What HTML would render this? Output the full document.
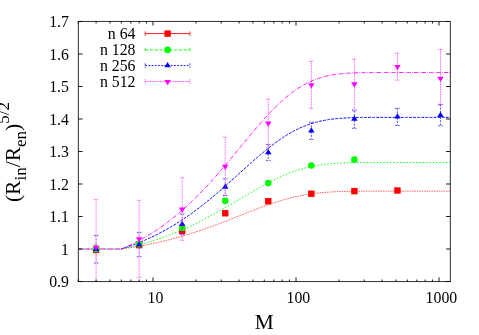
<!DOCTYPE html>
<html><head><meta charset="utf-8"><style>
html,body{margin:0;padding:0;background:#fff}
body{width:479px;height:335px;position:relative;overflow:hidden}
.t{font-family:"Liberation Serif",serif;font-size:15.8px;fill:#000}
.b{font-family:"Liberation Serif",serif;font-size:21.4px;fill:#000}
</style></head><body>
<svg width="479" height="335" viewBox="0 0 479 335" style="position:absolute;left:0;top:0;will-change:transform">
<rect width="479" height="335" fill="#fff"/>
<path d="M78.30 249.00 H121.28" fill="none" stroke="#ff0000" stroke-width="0.95" stroke-dasharray="0.7,1.0" stroke-opacity="0.5"/>
<path d="M121.28 249.00 L122.37 248.85 L123.47 248.69 L124.57 248.53 L125.66 248.37 L126.76 248.20 L127.86 248.04 L128.95 247.87 L130.05 247.70 L131.15 247.52 L132.24 247.35 L133.34 247.17 L134.44 246.99 L135.53 246.80 L136.63 246.62 L137.73 246.43 L138.82 246.23 L139.92 246.04 L141.02 245.84 L142.11 245.64 L143.21 245.44 L144.31 245.23 L145.40 245.02 L146.50 244.81 L147.60 244.60 L148.69 244.38 L149.79 244.16 L150.89 243.93 L151.98 243.71 L153.08 243.48 L154.18 243.24 L155.27 243.01 L156.37 242.77 L157.47 242.53 L158.57 242.28 L159.66 242.03 L160.76 241.78 L161.86 241.53 L162.95 241.27 L164.05 241.01 L165.15 240.74 L166.24 240.48 L167.34 240.20 L168.44 239.93 L169.53 239.65 L170.63 239.37 L171.73 239.09 L172.82 238.80 L173.92 238.51 L175.02 238.21 L176.11 237.92 L177.21 237.61 L178.31 237.31 L179.40 237.00 L180.50 236.69 L181.60 236.38 L182.69 236.06 L183.79 235.74 L184.89 235.41 L185.98 235.08 L187.08 234.75 L188.18 234.42 L189.27 234.08 L190.37 233.74 L191.47 233.39 L192.56 233.04 L193.66 232.69 L194.76 232.34 L195.85 231.98 L196.95 231.62 L198.05 231.25 L199.14 230.89 L200.24 230.52 L201.34 230.14 L202.43 229.77 L203.53 229.39 L204.63 229.01 L205.73 228.62 L206.82 228.23 L207.92 227.84 L209.02 227.45 L210.11 227.05 L211.21 226.65 L212.31 226.25 L213.40 225.85 L214.50 225.44 L215.60 225.03 L216.69 224.62 L217.79 224.21 L218.89 223.79 L219.98 223.38 L221.08 222.96 L222.18 222.53 L223.27 222.11 L224.37 221.69 L225.47 221.26 L226.56 220.83 L227.66 220.40 L228.76 219.97 L229.85 219.54 L230.95 219.11 L232.05 218.68 L233.14 218.24 L234.24 217.81 L235.34 217.37 L236.43 216.93 L237.53 216.50 L238.63 216.06 L239.72 215.63 L240.82 215.19 L241.92 214.75 L243.01 214.32 L244.11 213.88 L245.21 213.45 L246.30 213.01 L247.40 212.58 L248.50 212.15 L249.60 211.72 L250.69 211.29 L251.79 210.86 L252.89 210.43 L253.98 210.01 L255.08 209.59 L256.18 209.17 L257.27 208.75 L258.37 208.33 L259.47 207.92 L260.56 207.51 L261.66 207.10 L262.76 206.70 L263.85 206.30 L264.95 205.90 L266.05 205.51 L267.14 205.12 L268.24 204.74 L269.34 204.35 L270.43 203.98 L271.53 203.60 L272.63 203.23 L273.72 202.87 L274.82 202.51 L275.92 202.16 L277.01 201.81 L278.11 201.46 L279.21 201.13 L280.30 200.79 L281.40 200.46 L282.50 200.14 L283.59 199.83 L284.69 199.51 L285.79 199.21 L286.88 198.91 L287.98 198.62 L289.08 198.33 L290.17 198.05 L291.27 197.78 L292.37 197.51 L293.47 197.25 L294.56 196.99 L295.66 196.74 L296.76 196.50 L297.85 196.26 L298.95 196.04 L300.05 195.81 L301.14 195.60 L302.24 195.39 L303.34 195.18 L304.43 194.99 L305.53 194.79 L306.63 194.61 L307.72 194.43 L308.82 194.26 L309.92 194.09 L311.01 193.93 L312.11 193.78 L313.21 193.63 L314.30 193.49 L315.40 193.36 L316.50 193.23 L317.59 193.10 L318.69 192.98 L319.79 192.87 L320.88 192.76 L321.98 192.66 L323.08 192.56 L324.17 192.46 L325.27 192.37 L326.37 192.29 L327.46 192.21 L328.56 192.13 L329.66 192.06 L330.75 192.00 L331.85 191.93 L332.95 191.87 L334.04 191.82 L335.14 191.76 L336.24 191.71 L337.33 191.67 L338.43 191.63 L339.53 191.59 L340.63 191.55 L341.72 191.51 L342.82 191.48 L343.92 191.45 L345.01 191.42 L346.11 191.40 L347.21 191.37 L348.30 191.35 L349.40 191.33 L350.50 191.31 L351.59 191.30 L352.69 191.28 L353.79 191.27 L354.88 191.26 L355.98 191.24 L357.08 191.23 L358.17 191.22 L359.27 191.22 L360.37 191.21 L361.46 191.20 L362.56 191.20 L363.66 191.19 L364.75 191.18 L365.85 191.18 L366.95 191.18 L368.04 191.17 L369.14 191.17 L370.24 191.17 L371.33 191.16 L372.43 191.16 L373.53 191.16 L374.62 191.16 L375.72 191.16 L376.82 191.16 L377.91 191.16 L379.01 191.15 L380.11 191.15 L381.20 191.15 L382.30 191.15 L383.40 191.15 L384.50 191.15 L385.59 191.15 L386.69 191.15 L387.79 191.15 L388.88 191.15 L389.98 191.15 L391.08 191.15 L392.17 191.15 L393.27 191.15 L394.37 191.15 L395.46 191.15 L396.56 191.15 L397.66 191.15 L398.75 191.15 L399.85 191.15 L400.95 191.15 L402.04 191.15 L403.14 191.15 L404.24 191.15 L405.33 191.15 L406.43 191.15 L407.53 191.15 L408.62 191.15 L409.72 191.15 L410.82 191.15 L411.91 191.15 L413.01 191.15 L414.11 191.15 L415.20 191.15 L416.30 191.15 L417.40 191.15 L418.49 191.15 L419.59 191.15 L420.69 191.15 L421.78 191.15 L422.88 191.15 L423.98 191.15 L425.07 191.15 L426.17 191.15 L427.27 191.15 L428.37 191.15 L429.46 191.15 L430.56 191.15 L431.66 191.15 L432.75 191.15 L433.85 191.15 L434.95 191.15 L436.04 191.15 L437.14 191.15 L438.24 191.15 L439.33 191.15 L440.43 191.15 L441.53 191.15 L442.62 191.15 L443.72 191.15 L444.82 191.15 L445.91 191.15 L447.01 191.15 L448.11 191.15 L449.20 191.15 L450.30 191.15" fill="none" stroke="#ff0000" stroke-width="0.95" stroke-dasharray="0.7,1.0"/>
<path d="M78.30 249.00 H121.28" fill="none" stroke="#00ff00" stroke-width="1.0" stroke-dasharray="1.5,1.8" stroke-opacity="0.55"/>
<path d="M121.28 249.00 L122.37 248.77 L123.47 248.53 L124.57 248.30 L125.66 248.06 L126.76 247.81 L127.86 247.56 L128.95 247.31 L130.05 247.05 L131.15 246.79 L132.24 246.53 L133.34 246.26 L134.44 245.99 L135.53 245.71 L136.63 245.44 L137.73 245.15 L138.82 244.86 L139.92 244.57 L141.02 244.28 L142.11 243.98 L143.21 243.67 L144.31 243.37 L145.40 243.05 L146.50 242.74 L147.60 242.41 L148.69 242.09 L149.79 241.76 L150.89 241.42 L151.98 241.09 L153.08 240.74 L154.18 240.39 L155.27 240.04 L156.37 239.68 L157.47 239.32 L158.57 238.95 L159.66 238.58 L160.76 238.21 L161.86 237.82 L162.95 237.44 L164.05 237.05 L165.15 236.65 L166.24 236.25 L167.34 235.85 L168.44 235.44 L169.53 235.02 L170.63 234.60 L171.73 234.17 L172.82 233.74 L173.92 233.31 L175.02 232.87 L176.11 232.42 L177.21 231.97 L178.31 231.52 L179.40 231.06 L180.50 230.59 L181.60 230.12 L182.69 229.64 L183.79 229.16 L184.89 228.68 L185.98 228.19 L187.08 227.69 L188.18 227.19 L189.27 226.68 L190.37 226.17 L191.47 225.66 L192.56 225.14 L193.66 224.61 L194.76 224.08 L195.85 223.55 L196.95 223.01 L198.05 222.46 L199.14 221.91 L200.24 221.36 L201.34 220.80 L202.43 220.24 L203.53 219.67 L204.63 219.10 L205.73 218.52 L206.82 217.94 L207.92 217.36 L209.02 216.77 L210.11 216.18 L211.21 215.58 L212.31 214.98 L213.40 214.37 L214.50 213.77 L215.60 213.16 L216.69 212.54 L217.79 211.92 L218.89 211.30 L219.98 210.68 L221.08 210.05 L222.18 209.42 L223.27 208.79 L224.37 208.15 L225.47 207.52 L226.56 206.88 L227.66 206.23 L228.76 205.59 L229.85 204.95 L230.95 204.30 L232.05 203.65 L233.14 203.00 L234.24 202.35 L235.34 201.70 L236.43 201.05 L237.53 200.39 L238.63 199.74 L239.72 199.09 L240.82 198.43 L241.92 197.78 L243.01 197.13 L244.11 196.48 L245.21 195.83 L246.30 195.18 L247.40 194.53 L248.50 193.89 L249.60 193.24 L250.69 192.60 L251.79 191.96 L252.89 191.32 L253.98 190.69 L255.08 190.06 L256.18 189.43 L257.27 188.80 L258.37 188.18 L259.47 187.57 L260.56 186.95 L261.66 186.34 L262.76 185.74 L263.85 185.14 L264.95 184.55 L266.05 183.96 L267.14 183.38 L268.24 182.80 L269.34 182.23 L270.43 181.67 L271.53 181.11 L272.63 180.56 L273.72 180.01 L274.82 179.48 L275.92 178.95 L277.01 178.42 L278.11 177.91 L279.21 177.40 L280.30 176.91 L281.40 176.41 L282.50 175.93 L283.59 175.46 L284.69 174.99 L285.79 174.54 L286.88 174.09 L287.98 173.65 L289.08 173.23 L290.17 172.81 L291.27 172.40 L292.37 171.99 L293.47 171.60 L294.56 171.22 L295.66 170.85 L296.76 170.49 L297.85 170.13 L298.95 169.79 L300.05 169.46 L301.14 169.13 L302.24 168.82 L303.34 168.52 L304.43 168.22 L305.53 167.94 L306.63 167.66 L307.72 167.39 L308.82 167.14 L309.92 166.89 L311.01 166.65 L312.11 166.42 L313.21 166.20 L314.30 165.99 L315.40 165.78 L316.50 165.59 L317.59 165.40 L318.69 165.22 L319.79 165.05 L320.88 164.89 L321.98 164.74 L323.08 164.59 L324.17 164.45 L325.27 164.32 L326.37 164.19 L327.46 164.07 L328.56 163.96 L329.66 163.85 L330.75 163.75 L331.85 163.66 L332.95 163.57 L334.04 163.48 L335.14 163.40 L336.24 163.33 L337.33 163.26 L338.43 163.20 L339.53 163.14 L340.63 163.08 L341.72 163.03 L342.82 162.98 L343.92 162.94 L345.01 162.89 L346.11 162.86 L347.21 162.82 L348.30 162.79 L349.40 162.76 L350.50 162.73 L351.59 162.71 L352.69 162.68 L353.79 162.66 L354.88 162.64 L355.98 162.63 L357.08 162.61 L358.17 162.60 L359.27 162.58 L360.37 162.57 L361.46 162.56 L362.56 162.55 L363.66 162.54 L364.75 162.54 L365.85 162.53 L366.95 162.52 L368.04 162.52 L369.14 162.51 L370.24 162.51 L371.33 162.51 L372.43 162.50 L373.53 162.50 L374.62 162.50 L375.72 162.50 L376.82 162.50 L377.91 162.49 L379.01 162.49 L380.11 162.49 L381.20 162.49 L382.30 162.49 L383.40 162.49 L384.50 162.49 L385.59 162.49 L386.69 162.49 L387.79 162.49 L388.88 162.49 L389.98 162.49 L391.08 162.49 L392.17 162.49 L393.27 162.49 L394.37 162.49 L395.46 162.49 L396.56 162.49 L397.66 162.49 L398.75 162.49 L399.85 162.49 L400.95 162.49 L402.04 162.49 L403.14 162.49 L404.24 162.49 L405.33 162.49 L406.43 162.49 L407.53 162.49 L408.62 162.49 L409.72 162.49 L410.82 162.49 L411.91 162.49 L413.01 162.49 L414.11 162.49 L415.20 162.49 L416.30 162.49 L417.40 162.49 L418.49 162.49 L419.59 162.49 L420.69 162.49 L421.78 162.49 L422.88 162.49 L423.98 162.49 L425.07 162.49 L426.17 162.49 L427.27 162.49 L428.37 162.49 L429.46 162.49 L430.56 162.49 L431.66 162.49 L432.75 162.49 L433.85 162.49 L434.95 162.49 L436.04 162.49 L437.14 162.49 L438.24 162.49 L439.33 162.49 L440.43 162.49 L441.53 162.49 L442.62 162.49 L443.72 162.49 L444.82 162.49 L445.91 162.49 L447.01 162.49 L448.11 162.49 L449.20 162.49 L450.30 162.49" fill="none" stroke="#00ff00" stroke-width="1.0" stroke-dasharray="1.5,1.8"/>
<path d="M78.30 249.00 H121.28" fill="none" stroke="#0000ff" stroke-width="1.0" stroke-dasharray="2.8,1.3" stroke-opacity="0.3"/>
<path d="M121.28 249.00 L122.37 248.65 L123.47 248.29 L124.57 247.93 L125.66 247.56 L126.76 247.19 L127.86 246.81 L128.95 246.43 L130.05 246.04 L131.15 245.64 L132.24 245.24 L133.34 244.83 L134.44 244.42 L135.53 244.00 L136.63 243.58 L137.73 243.15 L138.82 242.71 L139.92 242.27 L141.02 241.82 L142.11 241.36 L143.21 240.90 L144.31 240.43 L145.40 239.95 L146.50 239.47 L147.60 238.98 L148.69 238.49 L149.79 237.98 L150.89 237.47 L151.98 236.96 L153.08 236.44 L154.18 235.91 L155.27 235.37 L156.37 234.82 L157.47 234.27 L158.57 233.72 L159.66 233.15 L160.76 232.58 L161.86 232.00 L162.95 231.41 L164.05 230.82 L165.15 230.21 L166.24 229.60 L167.34 228.99 L168.44 228.36 L169.53 227.73 L170.63 227.09 L171.73 226.44 L172.82 225.79 L173.92 225.13 L175.02 224.46 L176.11 223.78 L177.21 223.09 L178.31 222.40 L179.40 221.70 L180.50 220.99 L181.60 220.27 L182.69 219.55 L183.79 218.82 L184.89 218.08 L185.98 217.33 L187.08 216.58 L188.18 215.82 L189.27 215.05 L190.37 214.27 L191.47 213.49 L192.56 212.69 L193.66 211.89 L194.76 211.09 L195.85 210.27 L196.95 209.45 L198.05 208.62 L199.14 207.79 L200.24 206.95 L201.34 206.10 L202.43 205.24 L203.53 204.38 L204.63 203.51 L205.73 202.63 L206.82 201.75 L207.92 200.86 L209.02 199.96 L210.11 199.06 L211.21 198.15 L212.31 197.24 L213.40 196.32 L214.50 195.40 L215.60 194.47 L216.69 193.53 L217.79 192.59 L218.89 191.65 L219.98 190.70 L221.08 189.74 L222.18 188.78 L223.27 187.82 L224.37 186.86 L225.47 185.89 L226.56 184.91 L227.66 183.94 L228.76 182.96 L229.85 181.97 L230.95 180.99 L232.05 180.00 L233.14 179.02 L234.24 178.03 L235.34 177.03 L236.43 176.04 L237.53 175.05 L238.63 174.06 L239.72 173.06 L240.82 172.07 L241.92 171.08 L243.01 170.08 L244.11 169.09 L245.21 168.10 L246.30 167.12 L247.40 166.13 L248.50 165.15 L249.60 164.17 L250.69 163.19 L251.79 162.22 L252.89 161.25 L253.98 160.28 L255.08 159.32 L256.18 158.37 L257.27 157.42 L258.37 156.47 L259.47 155.53 L260.56 154.60 L261.66 153.68 L262.76 152.76 L263.85 151.85 L264.95 150.94 L266.05 150.05 L267.14 149.16 L268.24 148.29 L269.34 147.42 L270.43 146.56 L271.53 145.71 L272.63 144.87 L273.72 144.04 L274.82 143.23 L275.92 142.42 L277.01 141.63 L278.11 140.84 L279.21 140.07 L280.30 139.31 L281.40 138.57 L282.50 137.83 L283.59 137.11 L284.69 136.41 L285.79 135.71 L286.88 135.03 L287.98 134.37 L289.08 133.72 L290.17 133.08 L291.27 132.45 L292.37 131.84 L293.47 131.25 L294.56 130.67 L295.66 130.10 L296.76 129.55 L297.85 129.01 L298.95 128.49 L300.05 127.98 L301.14 127.49 L302.24 127.01 L303.34 126.55 L304.43 126.10 L305.53 125.67 L306.63 125.25 L307.72 124.84 L308.82 124.45 L309.92 124.07 L311.01 123.71 L312.11 123.36 L313.21 123.03 L314.30 122.70 L315.40 122.39 L316.50 122.10 L317.59 121.81 L318.69 121.54 L319.79 121.28 L320.88 121.04 L321.98 120.80 L323.08 120.58 L324.17 120.36 L325.27 120.16 L326.37 119.97 L327.46 119.79 L328.56 119.62 L329.66 119.45 L330.75 119.30 L331.85 119.16 L332.95 119.02 L334.04 118.89 L335.14 118.77 L336.24 118.66 L337.33 118.56 L338.43 118.46 L339.53 118.37 L340.63 118.28 L341.72 118.20 L342.82 118.13 L343.92 118.06 L345.01 118.00 L346.11 117.94 L347.21 117.89 L348.30 117.84 L349.40 117.79 L350.50 117.75 L351.59 117.71 L352.69 117.68 L353.79 117.65 L354.88 117.62 L355.98 117.59 L357.08 117.57 L358.17 117.54 L359.27 117.53 L360.37 117.51 L361.46 117.49 L362.56 117.48 L363.66 117.47 L364.75 117.45 L365.85 117.44 L366.95 117.44 L368.04 117.43 L369.14 117.42 L370.24 117.41 L371.33 117.41 L372.43 117.40 L373.53 117.40 L374.62 117.40 L375.72 117.39 L376.82 117.39 L377.91 117.39 L379.01 117.39 L380.11 117.38 L381.20 117.38 L382.30 117.38 L383.40 117.38 L384.50 117.38 L385.59 117.38 L386.69 117.38 L387.79 117.38 L388.88 117.38 L389.98 117.38 L391.08 117.38 L392.17 117.38 L393.27 117.38 L394.37 117.38 L395.46 117.38 L396.56 117.38 L397.66 117.38 L398.75 117.38 L399.85 117.38 L400.95 117.38 L402.04 117.38 L403.14 117.38 L404.24 117.38 L405.33 117.38 L406.43 117.38 L407.53 117.38 L408.62 117.38 L409.72 117.38 L410.82 117.38 L411.91 117.38 L413.01 117.38 L414.11 117.38 L415.20 117.38 L416.30 117.38 L417.40 117.38 L418.49 117.38 L419.59 117.38 L420.69 117.38 L421.78 117.38 L422.88 117.38 L423.98 117.38 L425.07 117.38 L426.17 117.38 L427.27 117.38 L428.37 117.38 L429.46 117.38 L430.56 117.38 L431.66 117.38 L432.75 117.38 L433.85 117.38 L434.95 117.38 L436.04 117.38 L437.14 117.38 L438.24 117.38 L439.33 117.38 L440.43 117.38 L441.53 117.38 L442.62 117.38 L443.72 117.38 L444.82 117.38 L445.91 117.38 L447.01 117.38 L448.11 117.38 L449.20 117.38 L450.30 117.38" fill="none" stroke="#0000ff" stroke-width="1.0" stroke-dasharray="2.8,1.3"/>
<path d="M78.30 249.00 H121.28" fill="none" stroke="#ff00ff" stroke-width="0.95" stroke-dasharray="4.2,1.3,0.7,1.3" stroke-opacity="0.75"/>
<path d="M121.28 249.00 L122.37 248.53 L123.47 248.06 L124.57 247.58 L125.66 247.09 L126.76 246.60 L127.86 246.09 L128.95 245.58 L130.05 245.07 L131.15 244.54 L132.24 244.01 L133.34 243.47 L134.44 242.92 L135.53 242.36 L136.63 241.80 L137.73 241.23 L138.82 240.65 L139.92 240.06 L141.02 239.46 L142.11 238.85 L143.21 238.24 L144.31 237.62 L145.40 236.98 L146.50 236.34 L147.60 235.69 L148.69 235.04 L149.79 234.37 L150.89 233.69 L151.98 233.01 L153.08 232.31 L154.18 231.61 L155.27 230.90 L156.37 230.17 L157.47 229.44 L158.57 228.70 L159.66 227.95 L160.76 227.19 L161.86 226.41 L162.95 225.63 L164.05 224.84 L165.15 224.04 L166.24 223.23 L167.34 222.41 L168.44 221.58 L169.53 220.74 L170.63 219.89 L171.73 219.03 L172.82 218.16 L173.92 217.28 L175.02 216.39 L176.11 215.49 L177.21 214.57 L178.31 213.65 L179.40 212.72 L180.50 211.78 L181.60 210.82 L182.69 209.86 L183.79 208.89 L184.89 207.90 L185.98 206.91 L187.08 205.90 L188.18 204.89 L189.27 203.87 L190.37 202.83 L191.47 201.79 L192.56 200.73 L193.66 199.67 L194.76 198.59 L195.85 197.51 L196.95 196.41 L198.05 195.31 L199.14 194.20 L200.24 193.07 L201.34 191.94 L202.43 190.80 L203.53 189.65 L204.63 188.49 L205.73 187.32 L206.82 186.14 L207.92 184.96 L209.02 183.76 L210.11 182.56 L211.21 181.35 L212.31 180.13 L213.40 178.91 L214.50 177.67 L215.60 176.43 L216.69 175.18 L217.79 173.93 L218.89 172.67 L219.98 171.40 L221.08 170.13 L222.18 168.85 L223.27 167.56 L224.37 166.27 L225.47 164.98 L226.56 163.68 L227.66 162.37 L228.76 161.06 L229.85 159.75 L230.95 158.43 L232.05 157.11 L233.14 155.79 L234.24 154.47 L235.34 153.14 L236.43 151.82 L237.53 150.49 L238.63 149.16 L239.72 147.83 L240.82 146.50 L241.92 145.17 L243.01 143.84 L244.11 142.51 L245.21 141.19 L246.30 139.86 L247.40 138.54 L248.50 137.22 L249.60 135.91 L250.69 134.60 L251.79 133.29 L252.89 131.99 L253.98 130.70 L255.08 129.41 L256.18 128.12 L257.27 126.85 L258.37 125.58 L259.47 124.32 L260.56 123.06 L261.66 121.82 L262.76 120.58 L263.85 119.36 L264.95 118.14 L266.05 116.94 L267.14 115.75 L268.24 114.57 L269.34 113.40 L270.43 112.24 L271.53 111.10 L272.63 109.97 L273.72 108.85 L274.82 107.75 L275.92 106.66 L277.01 105.59 L278.11 104.53 L279.21 103.49 L280.30 102.47 L281.40 101.46 L282.50 100.47 L283.59 99.49 L284.69 98.54 L285.79 97.60 L286.88 96.68 L287.98 95.77 L289.08 94.89 L290.17 94.03 L291.27 93.18 L292.37 92.35 L293.47 91.54 L294.56 90.76 L295.66 89.99 L296.76 89.24 L297.85 88.51 L298.95 87.80 L300.05 87.11 L301.14 86.44 L302.24 85.79 L303.34 85.16 L304.43 84.54 L305.53 83.95 L306.63 83.38 L307.72 82.83 L308.82 82.29 L309.92 81.78 L311.01 81.28 L312.11 80.80 L313.21 80.34 L314.30 79.90 L315.40 79.48 L316.50 79.07 L317.59 78.68 L318.69 78.31 L319.79 77.95 L320.88 77.61 L321.98 77.29 L323.08 76.98 L324.17 76.68 L325.27 76.41 L326.37 76.14 L327.46 75.89 L328.56 75.65 L329.66 75.43 L330.75 75.22 L331.85 75.02 L332.95 74.83 L334.04 74.65 L335.14 74.49 L336.24 74.33 L337.33 74.18 L338.43 74.05 L339.53 73.92 L340.63 73.80 L341.72 73.69 L342.82 73.59 L343.92 73.49 L345.01 73.40 L346.11 73.32 L347.21 73.25 L348.30 73.18 L349.40 73.12 L350.50 73.06 L351.59 73.00 L352.69 72.95 L353.79 72.91 L354.88 72.87 L355.98 72.83 L357.08 72.80 L358.17 72.77 L359.27 72.74 L360.37 72.72 L361.46 72.69 L362.56 72.67 L363.66 72.66 L364.75 72.64 L365.85 72.63 L366.95 72.61 L368.04 72.60 L369.14 72.59 L370.24 72.58 L371.33 72.57 L372.43 72.57 L373.53 72.56 L374.62 72.56 L375.72 72.55 L376.82 72.55 L377.91 72.54 L379.01 72.54 L380.11 72.54 L381.20 72.54 L382.30 72.53 L383.40 72.53 L384.50 72.53 L385.59 72.53 L386.69 72.53 L387.79 72.53 L388.88 72.53 L389.98 72.53 L391.08 72.53 L392.17 72.53 L393.27 72.53 L394.37 72.53 L395.46 72.53 L396.56 72.53 L397.66 72.53 L398.75 72.53 L399.85 72.53 L400.95 72.53 L402.04 72.53 L403.14 72.53 L404.24 72.53 L405.33 72.53 L406.43 72.53 L407.53 72.53 L408.62 72.53 L409.72 72.53 L410.82 72.53 L411.91 72.53 L413.01 72.53 L414.11 72.53 L415.20 72.53 L416.30 72.53 L417.40 72.53 L418.49 72.53 L419.59 72.53 L420.69 72.53 L421.78 72.53 L422.88 72.53 L423.98 72.53 L425.07 72.53 L426.17 72.53 L427.27 72.53 L428.37 72.53 L429.46 72.53 L430.56 72.53 L431.66 72.53 L432.75 72.53 L433.85 72.53 L434.95 72.53 L436.04 72.53 L437.14 72.53 L438.24 72.53 L439.33 72.53 L440.43 72.53 L441.53 72.53 L442.62 72.53 L443.72 72.53 L444.82 72.53 L445.91 72.53 L447.01 72.53 L448.11 72.53 L449.20 72.53 L450.30 72.53" fill="none" stroke="#ff00ff" stroke-width="0.95" stroke-dasharray="4.2,1.3,0.7,1.3"/>
<rect x="92.89" y="246.61" width="6.40" height="6.40" fill="#ff0000"/>
<rect x="135.94" y="241.90" width="6.40" height="6.40" fill="#ff0000"/>
<rect x="178.99" y="227.76" width="6.40" height="6.40" fill="#ff0000"/>
<rect x="222.04" y="210.05" width="6.40" height="6.40" fill="#ff0000"/>
<rect x="265.08" y="198.03" width="6.40" height="6.40" fill="#ff0000"/>
<rect x="308.13" y="190.55" width="6.40" height="6.40" fill="#ff0000"/>
<rect x="351.18" y="187.95" width="6.40" height="6.40" fill="#ff0000"/>
<rect x="394.23" y="187.30" width="6.40" height="6.40" fill="#ff0000"/>
<path d="M96.09 244.78 V253.23" fill="none" stroke="#00ff00" stroke-width="0.72" stroke-dasharray="3.2,1.6" stroke-opacity="0.5"/>
<path d="M93.79 244.78 H98.39 M93.79 253.23 H98.39" fill="none" stroke="#00ff00" stroke-width="0.8" stroke-opacity="0.85" stroke-dasharray="3.2,1.6"/>
<circle cx="96.09" cy="249.00" r="3.3" fill="#00ff00"/>
<circle cx="139.14" cy="244.13" r="3.3" fill="#00ff00"/>
<circle cx="182.19" cy="227.88" r="3.3" fill="#00ff00"/>
<circle cx="225.24" cy="200.90" r="3.3" fill="#00ff00"/>
<circle cx="268.28" cy="183.09" r="3.3" fill="#00ff00"/>
<circle cx="311.33" cy="165.48" r="3.3" fill="#00ff00"/>
<circle cx="354.38" cy="159.63" r="3.3" fill="#00ff00"/>
<path d="M96.09 235.48 V263.17" fill="none" stroke="#0000ff" stroke-width="0.72" stroke-dasharray="1.8,1.4" stroke-opacity="0.5"/>
<path d="M93.79 235.48 H98.39 M93.79 263.17 H98.39" fill="none" stroke="#0000ff" stroke-width="0.8" stroke-opacity="0.85" stroke-dasharray="1.8,1.4"/>
<path d="M139.14 232.36 V256.74" fill="none" stroke="#0000ff" stroke-width="0.72" stroke-dasharray="1.8,1.4" stroke-opacity="0.5"/>
<path d="M136.84 232.36 H141.44 M136.84 256.74 H141.44" fill="none" stroke="#0000ff" stroke-width="0.8" stroke-opacity="0.85" stroke-dasharray="1.8,1.4"/>
<path d="M182.19 214.06 V234.86" fill="none" stroke="#0000ff" stroke-width="0.72" stroke-dasharray="1.8,1.4" stroke-opacity="0.5"/>
<path d="M179.89 214.06 H184.49 M179.89 234.86 H184.49" fill="none" stroke="#0000ff" stroke-width="0.8" stroke-opacity="0.85" stroke-dasharray="1.8,1.4"/>
<path d="M225.24 178.80 V195.38" fill="none" stroke="#0000ff" stroke-width="0.72" stroke-dasharray="1.8,1.4" stroke-opacity="0.5"/>
<path d="M222.94 178.80 H227.54 M222.94 195.38 H227.54" fill="none" stroke="#0000ff" stroke-width="0.8" stroke-opacity="0.85" stroke-dasharray="1.8,1.4"/>
<path d="M268.28 144.35 V160.60" fill="none" stroke="#0000ff" stroke-width="0.72" stroke-dasharray="1.8,1.4"/>
<path d="M265.98 144.35 H270.58 M265.98 160.60 H270.58" fill="none" stroke="#0000ff" stroke-width="0.8" stroke-opacity="0.85" stroke-dasharray="1.8,1.4"/>
<path d="M311.33 122.25 V139.48" fill="none" stroke="#0000ff" stroke-width="0.72" stroke-dasharray="1.8,1.4"/>
<path d="M309.03 122.25 H313.63 M309.03 139.48 H313.63" fill="none" stroke="#0000ff" stroke-width="0.8" stroke-opacity="0.85" stroke-dasharray="1.8,1.4"/>
<path d="M354.38 110.78 V128.33" fill="none" stroke="#0000ff" stroke-width="0.72" stroke-dasharray="1.8,1.4"/>
<path d="M352.08 110.78 H356.68 M352.08 128.33 H356.68" fill="none" stroke="#0000ff" stroke-width="0.8" stroke-opacity="0.85" stroke-dasharray="1.8,1.4"/>
<path d="M397.43 108.28 V125.50" fill="none" stroke="#0000ff" stroke-width="0.72" stroke-dasharray="1.8,1.4"/>
<path d="M395.13 108.28 H399.73 M395.13 125.50 H399.73" fill="none" stroke="#0000ff" stroke-width="0.8" stroke-opacity="0.85" stroke-dasharray="1.8,1.4"/>
<path d="M440.47 104.34 V125.79" fill="none" stroke="#0000ff" stroke-width="0.72" stroke-dasharray="1.8,1.4"/>
<path d="M438.17 104.34 H442.77 M438.17 125.79 H442.77" fill="none" stroke="#0000ff" stroke-width="0.8" stroke-opacity="0.85" stroke-dasharray="1.8,1.4"/>
<path d="M96.09 245.73 L92.84 250.98 L99.34 250.98 Z" fill="#0000ff"/>
<path d="M139.14 241.34 L135.89 246.59 L142.39 246.59 Z" fill="#0000ff"/>
<path d="M182.19 220.86 L178.94 226.11 L185.44 226.11 Z" fill="#0000ff"/>
<path d="M225.24 183.49 L221.99 188.74 L228.49 188.74 Z" fill="#0000ff"/>
<path d="M268.28 148.88 L265.03 154.13 L271.53 154.13 Z" fill="#0000ff"/>
<path d="M311.33 127.26 L308.08 132.51 L314.58 132.51 Z" fill="#0000ff"/>
<path d="M354.38 115.40 L351.13 120.65 L357.63 120.65 Z" fill="#0000ff"/>
<path d="M397.43 113.29 L394.18 118.54 L400.68 118.54 Z" fill="#0000ff"/>
<path d="M440.47 111.83 L437.22 117.08 L443.72 117.08 Z" fill="#0000ff"/>
<path d="M96.09 199.60 V281.60" fill="none" stroke="#ff00ff" stroke-width="0.72" stroke-dasharray="0.85,0.8"/>
<path d="M93.79 199.60 H98.39 M93.79 281.60 H98.39" fill="none" stroke="#ff00ff" stroke-width="0.8" stroke-opacity="0.85" stroke-dasharray="0.85,0.8"/>
<path d="M139.14 200.25 V277.60" fill="none" stroke="#ff00ff" stroke-width="0.72" stroke-dasharray="0.85,0.8"/>
<path d="M136.84 200.25 H141.44 M136.84 277.60 H141.44" fill="none" stroke="#ff00ff" stroke-width="0.8" stroke-opacity="0.85" stroke-dasharray="0.85,0.8"/>
<path d="M182.19 177.66 V240.39" fill="none" stroke="#ff00ff" stroke-width="0.72" stroke-dasharray="0.85,0.8"/>
<path d="M179.89 177.66 H184.49 M179.89 240.39 H184.49" fill="none" stroke="#ff00ff" stroke-width="0.8" stroke-opacity="0.85" stroke-dasharray="0.85,0.8"/>
<path d="M225.24 137.20 V195.70" fill="none" stroke="#ff00ff" stroke-width="0.72" stroke-dasharray="0.85,0.8"/>
<path d="M222.94 137.20 H227.54 M222.94 195.70 H227.54" fill="none" stroke="#ff00ff" stroke-width="0.8" stroke-opacity="0.85" stroke-dasharray="0.85,0.8"/>
<path d="M268.28 99.17 V147.28" fill="none" stroke="#ff00ff" stroke-width="0.72" stroke-dasharray="0.85,0.8"/>
<path d="M265.98 99.17 H270.58 M265.98 147.28 H270.58" fill="none" stroke="#ff00ff" stroke-width="0.8" stroke-opacity="0.85" stroke-dasharray="0.85,0.8"/>
<path d="M311.33 61.31 V108.44" fill="none" stroke="#ff00ff" stroke-width="0.72" stroke-dasharray="0.85,0.8"/>
<path d="M309.03 61.31 H313.63 M309.03 108.44 H313.63" fill="none" stroke="#ff00ff" stroke-width="0.8" stroke-opacity="0.85" stroke-dasharray="0.85,0.8"/>
<path d="M354.38 59.20 V109.32" fill="none" stroke="#ff00ff" stroke-width="0.72" stroke-dasharray="0.85,0.8"/>
<path d="M352.08 59.20 H356.68 M352.08 109.32 H356.68" fill="none" stroke="#ff00ff" stroke-width="0.8" stroke-opacity="0.85" stroke-dasharray="0.85,0.8"/>
<path d="M397.43 53.19 V80.16" fill="none" stroke="#ff00ff" stroke-width="0.72" stroke-dasharray="0.85,0.8"/>
<path d="M395.13 53.19 H399.73 M395.13 80.16 H399.73" fill="none" stroke="#ff00ff" stroke-width="0.8" stroke-opacity="0.85" stroke-dasharray="0.85,0.8"/>
<path d="M440.47 49.45 V105.35" fill="none" stroke="#ff00ff" stroke-width="0.72" stroke-dasharray="0.85,0.8"/>
<path d="M438.17 49.45 H442.77 M438.17 105.35 H442.77" fill="none" stroke="#ff00ff" stroke-width="0.8" stroke-opacity="0.85" stroke-dasharray="0.85,0.8"/>
<path d="M96.09 250.81 L92.84 245.56 L99.34 245.56 Z" fill="#ff00ff"/>
<path d="M139.14 242.53 L135.89 237.28 L142.39 237.28 Z" fill="#ff00ff"/>
<path d="M182.19 212.63 L178.94 207.38 L185.44 207.38 Z" fill="#ff00ff"/>
<path d="M225.24 170.05 L221.99 164.80 L228.49 164.80 Z" fill="#ff00ff"/>
<path d="M268.28 126.83 L265.03 121.58 L271.53 121.58 Z" fill="#ff00ff"/>
<path d="M311.33 88.48 L308.08 83.23 L314.58 83.23 Z" fill="#ff00ff"/>
<path d="M354.38 87.50 L351.13 82.25 L357.63 82.25 Z" fill="#ff00ff"/>
<path d="M397.43 70.28 L394.18 65.03 L400.68 65.03 Z" fill="#ff00ff"/>
<path d="M440.47 81.98 L437.22 76.73 L443.72 76.73 Z" fill="#ff00ff"/>
<path d="M145.2 33.60 H189.9" fill="none" stroke="#ff0000" stroke-width="0.9"/>
<path d="M145.2 31.40 V35.80 M189.9 31.40 V35.80" fill="none" stroke="#ff0000" stroke-width="0.8"/>
<rect x="164.40" y="30.40" width="6.40" height="6.40" fill="#ff0000"/>
<text x="135.5" y="38.80" text-anchor="end" class="t">n 64</text>
<path d="M145.2 49.90 H189.9" fill="none" stroke="#00ff00" stroke-width="0.9" stroke-dasharray="3.2,1.6"/>
<path d="M145.2 47.70 V52.10 M189.9 47.70 V52.10" fill="none" stroke="#00ff00" stroke-width="0.8" stroke-dasharray="3.2,1.6"/>
<circle cx="167.60" cy="49.90" r="3.3" fill="#00ff00"/>
<text x="135.5" y="55.10" text-anchor="end" class="t">n 128</text>
<path d="M145.2 65.55 H189.9" fill="none" stroke="#0000ff" stroke-width="0.9" stroke-dasharray="1.8,1.4"/>
<path d="M145.2 63.35 V67.75 M189.9 63.35 V67.75" fill="none" stroke="#0000ff" stroke-width="0.8" stroke-dasharray="1.8,1.4"/>
<path d="M167.60 61.95 L164.35 67.20 L170.85 67.20 Z" fill="#0000ff"/>
<text x="135.5" y="70.75" text-anchor="end" class="t">n 256</text>
<path d="M145.2 81.60 H189.9" fill="none" stroke="#ff00ff" stroke-width="0.9" stroke-dasharray="0.85,0.8"/>
<path d="M145.2 79.40 V83.80 M189.9 79.40 V83.80" fill="none" stroke="#ff00ff" stroke-width="0.8" stroke-dasharray="0.85,0.8"/>
<path d="M167.60 85.20 L164.35 79.95 L170.85 79.95 Z" fill="#ff00ff"/>
<text x="135.5" y="86.80" text-anchor="end" class="t">n 512</text>
<rect x="78.3" y="21.4" width="372.0" height="260.2" fill="none" stroke="#1a1a1a" stroke-width="0.9"/>
<text x="68.9" y="287.00" text-anchor="end" class="t">0.9</text>
<text x="68.9" y="254.50" text-anchor="end" class="t">1</text>
<text x="68.9" y="222.00" text-anchor="end" class="t">1.1</text>
<text x="68.9" y="189.50" text-anchor="end" class="t">1.2</text>
<text x="68.9" y="157.00" text-anchor="end" class="t">1.3</text>
<text x="68.9" y="124.50" text-anchor="end" class="t">1.4</text>
<text x="68.9" y="92.00" text-anchor="end" class="t">1.5</text>
<text x="68.9" y="59.50" text-anchor="end" class="t">1.6</text>
<text x="68.9" y="27.00" text-anchor="end" class="t">1.7</text>
<text x="155.40" y="302.9" text-anchor="middle" class="t">10</text>
<text x="298.40" y="302.9" text-anchor="middle" class="t">100</text>
<text x="441.40" y="302.9" text-anchor="middle" class="t">1000</text>
<path d="M78.3 281.50 h4.2 M450.3 281.50 h-4.2 M78.3 249.00 h4.2 M450.3 249.00 h-4.2 M78.3 216.50 h4.2 M450.3 216.50 h-4.2 M78.3 184.00 h4.2 M450.3 184.00 h-4.2 M78.3 151.50 h4.2 M450.3 151.50 h-4.2 M78.3 119.00 h4.2 M450.3 119.00 h-4.2 M78.3 86.50 h4.2 M450.3 86.50 h-4.2 M78.3 54.00 h4.2 M450.3 54.00 h-4.2 M78.3 21.50 h4.2 M450.3 21.50 h-4.2 M78.23 281.6 v-2.1 M78.23 21.4 v2.1 M96.09 281.6 v-2.1 M96.09 21.4 v2.1 M109.95 281.6 v-2.1 M109.95 21.4 v2.1 M121.28 281.6 v-2.1 M121.28 21.4 v2.1 M130.85 281.6 v-2.1 M130.85 21.4 v2.1 M139.14 281.6 v-2.1 M139.14 21.4 v2.1 M146.46 281.6 v-2.1 M146.46 21.4 v2.1 M153.00 281.6 v-4.2 M153.00 21.4 v4.2 M196.05 281.6 v-2.1 M196.05 21.4 v2.1 M221.23 281.6 v-2.1 M221.23 21.4 v2.1 M239.09 281.6 v-2.1 M239.09 21.4 v2.1 M252.95 281.6 v-2.1 M252.95 21.4 v2.1 M264.28 281.6 v-2.1 M264.28 21.4 v2.1 M273.85 281.6 v-2.1 M273.85 21.4 v2.1 M282.14 281.6 v-2.1 M282.14 21.4 v2.1 M289.46 281.6 v-2.1 M289.46 21.4 v2.1 M296.00 281.6 v-4.2 M296.00 21.4 v4.2 M339.05 281.6 v-2.1 M339.05 21.4 v2.1 M364.23 281.6 v-2.1 M364.23 21.4 v2.1 M382.09 281.6 v-2.1 M382.09 21.4 v2.1 M395.95 281.6 v-2.1 M395.95 21.4 v2.1 M407.28 281.6 v-2.1 M407.28 21.4 v2.1 M416.85 281.6 v-2.1 M416.85 21.4 v2.1 M425.14 281.6 v-2.1 M425.14 21.4 v2.1 M432.46 281.6 v-2.1 M432.46 21.4 v2.1 M439.00 281.6 v-4.2 M439.00 21.4 v4.2" fill="none" stroke="#000" stroke-width="0.9"/>
<text x="264.2" y="328.8" text-anchor="middle" class="b">M</text>
<text transform="translate(20,152.0) rotate(-90)" text-anchor="middle" class="b">(R<tspan dy="6.4" font-size="17.1">in</tspan><tspan dy="-6.4">/R</tspan><tspan dy="6.4" font-size="17.1">en</tspan><tspan dy="-6.4">)</tspan><tspan dy="-10.7" font-size="17.1">5/2</tspan></text>
</svg>
</body></html>
